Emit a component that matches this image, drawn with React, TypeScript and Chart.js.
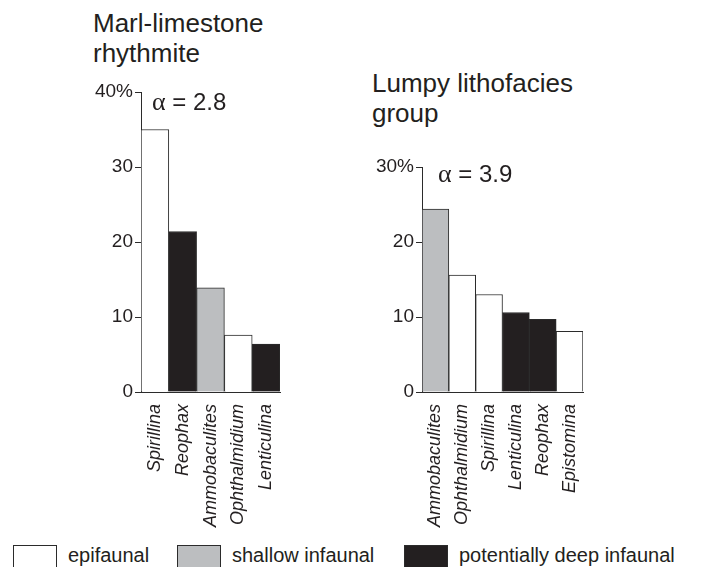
import React, { useEffect, useRef } from 'react';
import { Chart, registerables } from 'chart.js';

Chart.register(...registerables);

// ---------- data ----------
const leftTitle = ['Marl-limestone', 'rhythmite'];
const leftAlpha = '2.8';
const leftCategories = ['Spirillina', 'Reophax', 'Ammobaculites', 'Ophthalmidium', 'Lenticulina'];
const leftValues = [35, 21.4, 13.9, 7.6, 6.4];
const leftGroups = ['epi', 'deep', 'shallow', 'epi', 'deep'];
const leftMax = 40;

const rightTitle = ['Lumpy lithofacies', 'group'];
const rightAlpha = '3.9';
const rightCategories = ['Ammobaculites', 'Ophthalmidium', 'Spirillina', 'Lenticulina', 'Reophax', 'Epistomina'];
const rightValues = [24.4, 15.6, 13.0, 10.6, 9.7, 8.1];
const rightGroups = ['shallow', 'epi', 'epi', 'deep', 'deep', 'epi'];
const rightMax = 30;

const legendKeys = ['epi', 'shallow', 'deep'];
const legendLabels = ['epifaunal', 'shallow infaunal', 'potentially deep infaunal'];

// ---------- styles ----------
const FONT = '"Liberation Sans", Arial, Helvetica, sans-serif';
const INK = '#231f20';
const groupColors: Record<string, string> = {
  epi: '#ffffff',
  shallow: '#bcbec0',
  deep: '#231f20',
};

type PanelProps = {
  categories: string[];
  values: number[];
  groups: string[];
  max: number;
  left: number;
  top: number;
  width: number;
  height: number;
  yWidth: number;
  xHeight: number;
};

function BarPanel(p: PanelProps) {
  const ref = useRef<HTMLCanvasElement | null>(null);
  useEffect(() => {
    if (!ref.current) return;
    const chart = new Chart(ref.current, {
      type: 'bar',
      data: {
        labels: p.categories,
        datasets: [
          {
            data: p.values,
            backgroundColor: p.groups.map((g) => groupColors[g]),
            borderColor: '#2b2b2b',
            borderWidth: 1,
            categoryPercentage: 1,
            barPercentage: 1,
          },
        ],
      },
      options: {
        animation: false,
        responsive: false,
        devicePixelRatio: 1,
        layout: { padding: { top: 20, right: 20, left: 0, bottom: 0 } },
        plugins: { legend: { display: false }, tooltip: { enabled: false }, title: { display: false } },
        scales: {
          x: {
            grid: { display: false },
            border: { display: true, color: '#2b2b2b', width: 1 },
            ticks: {
              minRotation: 90,
              maxRotation: 90,
              autoSkip: false,
              padding: 4,
              color: INK,
              font: { family: FONT, size: 18, style: 'italic' },
            },
            afterFit: (s: any) => {
              s.height = p.xHeight;
            },
          },
          y: {
            min: 0,
            max: p.max,
            grid: { display: true, drawOnChartArea: false, drawTicks: true, tickLength: 6, color: '#2b2b2b' },
            border: { display: true, color: '#2b2b2b', width: 1 },
            ticks: {
              stepSize: 10,
              padding: 2,
              color: INK,
              font: { family: FONT, size: 19 },
              callback: (v: any) => (Number(v) === p.max ? v + '%' : String(v)),
            },
            afterFit: (s: any) => {
              s.width = p.yWidth;
            },
          },
        },
      },
    });
    return () => chart.destroy();
  }, []);
  return (
    <canvas
      ref={ref}
      width={p.width}
      height={p.height}
      style={{ position: 'absolute', left: p.left, top: p.top, width: p.width, height: p.height }}
    />
  );
}

function Title({ lines, left, top }: { lines: string[]; left: number; top: number }) {
  return (
    <div
      style={{
        position: 'absolute',
        left,
        top,
        fontFamily: FONT,
        fontSize: 26,
        lineHeight: '30px',
        color: INK,
        whiteSpace: 'nowrap',
      }}
    >
      {lines.map((l, i) => (
        <div key={i}>{l}</div>
      ))}
    </div>
  );
}

function Alpha({ value, left, top }: { value: string; left: number; top: number }) {
  return (
    <div
      style={{
        position: 'absolute',
        left,
        top,
        fontFamily: FONT,
        fontSize: 24,
        lineHeight: '24px',
        color: INK,
        whiteSpace: 'nowrap',
      }}
    >
      <span style={{ fontFamily: '"Liberation Serif", "DejaVu Serif", serif', fontSize: 26 }}>α</span> = {value}
    </div>
  );
}

export default function App() {
  const legendX = [13, 177, 404];
  return (
    <div
      style={{
        position: 'absolute',
        left: 0,
        top: 0,
        width: 701,
        height: 567,
        overflow: 'hidden',
        background: '#ffffff',
      }}
    >
      <Title lines={leftTitle} left={93} top={8} />
      <Title lines={rightTitle} left={372} top={68} />
      <BarPanel
        categories={leftCategories}
        values={leftValues}
        groups={leftGroups}
        max={leftMax}
        left={60}
        top={72}
        width={240}
        height={460}
        yWidth={81}
        xHeight={140}
      />
      <BarPanel
        categories={rightCategories}
        values={rightValues}
        groups={rightGroups}
        max={rightMax}
        left={340}
        top={147}
        width={263}
        height={385}
        yWidth={82}
        xHeight={140}
      />
      <Alpha value={leftAlpha} left={152} top={90} />
      <Alpha value={rightAlpha} left={438} top={162} />
      {legendKeys.map((k, i) => (
        <React.Fragment key={k}>
          <div
            style={{
              position: 'absolute',
              left: legendX[i],
              top: 545,
              width: 44,
              height: 30,
              boxSizing: 'border-box',
              border: '1px solid #2b2b2b',
              background: groupColors[k],
            }}
          />
          <div
            style={{
              position: 'absolute',
              left: legendX[i] + 55,
              top: 545,
              fontFamily: FONT,
              fontSize: 20,
              lineHeight: '20px',
              color: INK,
              whiteSpace: 'nowrap',
            }}
          >
            {legendLabels[i]}
          </div>
        </React.Fragment>
      ))}
    </div>
  );
}
